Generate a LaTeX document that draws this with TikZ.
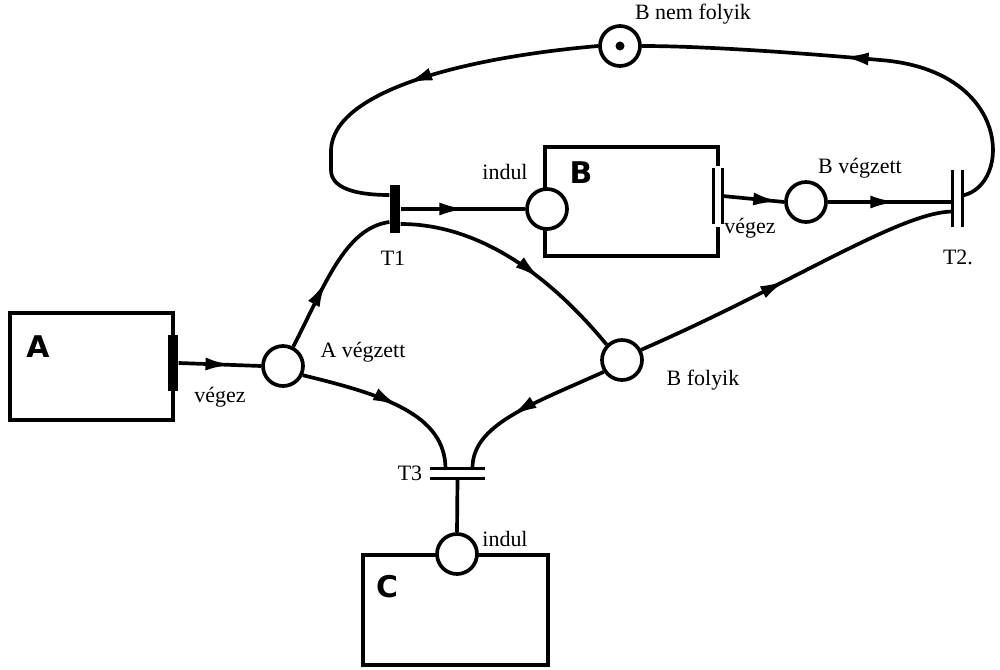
\documentclass[tikz,border=0pt]{standalone}
\usepackage{fontspec}
\setmainfont{Liberation Serif}
\newfontfamily\handfont{DejaVu Sans}
\usetikzlibrary{arrows.meta,decorations.markings,calc}

\tikzset{
  net/.style={line width=2.1pt},
  place/.style={circle, draw, line width=2.1pt, fill=white, minimum size=0.8cm, inner sep=0pt},
  solidbar/.style={fill=black, draw=none, inner sep=0pt, minimum width=0.21cm},
  twinbar/.style={draw=none, inner sep=0pt},
  barline/.style={line width=1.7pt},
  lbl/.style={font=\fontsize{12.5}{12.5}\selectfont, inner sep=1pt},
  boxname/.style={font=\handfont\bfseries\fontsize{17}{17}\selectfont, inner sep=0pt},
  flow/.style={line width=2.1pt,
    decoration={markings, mark=at position #1 with {\arrow{Latex[length=0.52cm,width=0.26cm]}}},
    postaction={decorate}},
  flow/.default=0.5,
  box/.style={line width=2.2pt, line join=miter},
}

\begin{document}
\begin{tikzpicture}[x=0.02cm,y=-0.02cm]
\useasboundingbox (0,0) rectangle (1000,669);

% subsystem boxes
\draw[box] (10,313) rectangle (173,420);
\draw[box] (718,166) -- (718,147) -- (545,147) -- (545,256) -- (718,256) -- (718,227);
\draw[box] (363,555) rectangle (548,665);

\node[boxname] (nA) at (38,347) {A};
\node[boxname] (nB) at (581,173) {B};
\node[boxname] (nC) at (387,587) {C};

% places
\node[place] (bnf) at (620,46) {};
\fill (bnf.center) circle[radius=0.09cm];
\node[place] (bin) at (547,209) {};
\node[place] (bvz) at (806,202) {};
\node[place] (awz) at (283,366) {};
\node[place] (bfo) at (622,360) {};
\node[place] (cin) at (457,554) {};

% transitions
\node[solidbar, minimum height=0.96cm] (t1) at (395,209) {};
\node[solidbar, minimum height=1.14cm] (av) at (173,363) {};
\node[twinbar, minimum width=0.17cm, minimum height=1.12cm] (bv) at (718,196) {};
\draw[barline] (bv.north west) -- (bv.south west) (bv.north east) -- (bv.south east);
\node[twinbar, minimum width=0.19cm, minimum height=1.14cm] (t2) at (957.5,198.5) {};
\draw[barline] (t2.north west) -- (t2.south west) (t2.north east) -- (t2.south east);
\node[twinbar, minimum width=1.1cm, minimum height=0.19cm] (t3) at (457.5,473.5) {};
\draw[barline] (t3.north west) -- (t3.north east) (t3.south west) -- (t3.south east);

% arcs
\draw[flow=0.5] (bnf.west) .. controls (460,58) and (333,92) .. (331,150) -- (331,170)
  .. controls (331,188) and (355,195) .. ($(t1.west)+(0,-14)$);
\draw[flow=0.52] (t1.east) -- (bin.west);
\draw[flow=0.62] ($(t1.east)+(0,15)$) .. controls (475,224) and (545,270) .. (bfo.north west);
\draw[flow=0.45] (awz.62) .. controls (325,285) and (345,228) .. ($(t1.west)+(0,13)$);
\draw[flow=0.64] (av.east) -- (awz.west);
\draw[flow=0.92] (bv.east) -- (bvz.west);
\draw[flow=0.55] (bvz.east) -- ($(t2.west)+(0,3.5)$);
\draw[flow=0.47] (bfo.28) .. controls (790,285) and (900,212) .. ($(t2.west)+(0,13)$);
\draw[flow=0.56] ($(t2.east)+(0,-3)$) .. controls (1012,185) and (1012,70) .. (880,60)
  .. controls (790,52) and (700,46) .. (bnf.east);
\draw[flow=0.55] (awz.-25) .. controls (385,395) and (445,415) .. ($(t3.north)+(-12,0)$);
\draw[flow=0.6] (bfo.213) .. controls (530,405) and (472,425) .. ($(t3.north)+(15,0)$);
\draw[net] (t3.south) -- (cin.north);

% labels
\node[lbl] (lbnf) at (693,14) {B nem folyik};
\node[lbl] (lbin) at (505,172) {indul};
\node[lbl] (lbv) at (750,228) {végez};
\node[lbl] (lbvz) at (860,168) {B végzett};
\node[lbl] (lt1) at (393,258) {T1};
\node[lbl] (lt2) at (958,257) {T2.};
\node[lbl] (lawz) at (363,352) {A végzett};
\node[lbl] (lav) at (220,397) {végez};
\node[lbl] (lbfo) at (703,380) {B folyik};
\node[lbl] (lt3) at (410,473) {T3};
\node[lbl] (lcin) at (505,539) {indul};
\end{tikzpicture}
\end{document}
